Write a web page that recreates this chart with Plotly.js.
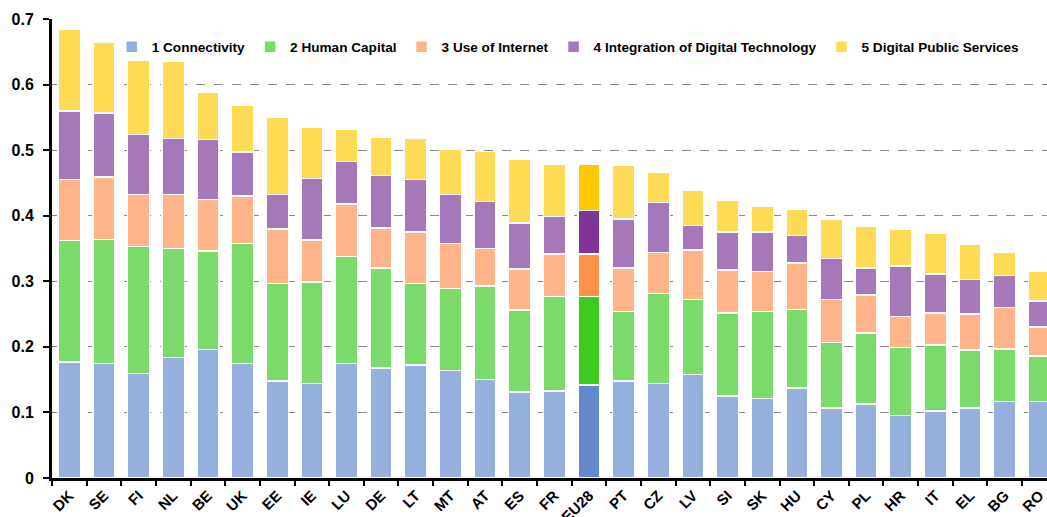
<!DOCTYPE html>
<html>
<head>
<meta charset="utf-8">
<script src="https://cdn.plot.ly/plotly-3.0.1.min.js"></script>
<style>html,body{margin:0;padding:0;background:#fff;}#chart{width:1047px;height:517px;}</style>
</head>
<body>
<div id="chart"></div>
<script>
const countries = ["DK","SE","FI","NL","BE","UK","EE","IE","LU","DE","LT","MT","AT","ES","FR","EU28","PT","CZ","LV","SI","SK","HU","CY","PL","HR","IT","EL","BG","RO"];
const connectivity = [0.177,0.175,0.159,0.184,0.196,0.175,0.148,0.144,0.175,0.168,0.172,0.164,0.150,0.131,0.133,0.142,0.148,0.144,0.158,0.125,0.121,0.137,0.107,0.113,0.095,0.102,0.107,0.117,0.117];
const humanCapital = [0.185,0.189,0.194,0.166,0.150,0.183,0.149,0.155,0.163,0.152,0.125,0.125,0.143,0.125,0.144,0.135,0.106,0.137,0.114,0.127,0.133,0.120,0.100,0.108,0.104,0.101,0.088,0.080,0.069];
const useOfInternet = [0.093,0.095,0.079,0.082,0.079,0.072,0.083,0.064,0.080,0.061,0.078,0.069,0.057,0.063,0.065,0.065,0.066,0.063,0.076,0.065,0.061,0.071,0.065,0.058,0.047,0.049,0.055,0.063,0.044];
const integration = [0.105,0.098,0.092,0.086,0.091,0.067,0.052,0.094,0.065,0.080,0.080,0.074,0.072,0.070,0.057,0.066,0.075,0.076,0.037,0.058,0.060,0.042,0.063,0.041,0.077,0.059,0.053,0.049,0.040];
const publicServices = [0.125,0.108,0.113,0.118,0.072,0.072,0.118,0.078,0.049,0.059,0.063,0.070,0.076,0.097,0.080,0.071,0.082,0.047,0.054,0.049,0.039,0.040,0.060,0.064,0.056,0.062,0.054,0.035,0.045];
const seriesNames = ["1 Connectivity","2 Human Capital","3 Use of Internet","4 Integration of Digital Technology","5 Digital Public Services"];
const yTicks = [0,0.1,0.2,0.3,0.4,0.5,0.6,0.7];
const yTickLabels = ["0","0.1","0.2","0.3","0.4","0.5","0.6","0.7"];

const baseColors = ["#95b0dc","#7bdb6a","#ffb589","#a677b9","#ffda55"];
const euColors = ["#6389cc","#3bcc1f","#ff9148","#803596","#ffc800"];
const allSeries = [connectivity, humanCapital, useOfInternet, integration, publicServices];

const traces = allSeries.map((vals, i) => ({
  type: "bar",
  name: seriesNames[i],
  x: countries,
  y: vals,
  marker: {
    color: countries.map(c => c === "EU28" ? euColors[i] : baseColors[i]),
    line: {color: "#ffffff", width: 1.5}
  },
  hoverinfo: "x+y+name"
}));

const layout = {
  width: 1047,
  height: 517,
  margin: {l: 52, r: 0, t: 19, b: 39},
  barmode: "stack",
  bargap: 0.36,
  paper_bgcolor: "#ffffff",
  plot_bgcolor: "#ffffff",
  font: {family: "Liberation Sans, Arial, sans-serif", color: "#000"},
  showlegend: true,
  legend: {
    orientation: "h",
    x: 0.06, xanchor: "left",
    y: 0.939, yanchor: "middle",
    bgcolor: "rgba(0,0,0,0)",
    font: {size: 13.6, color: "#000", family: "Liberation Sans, Arial, sans-serif", weight: "bold"},
    traceorder: "normal",
    itemclick: false
  },
  xaxis: {
    type: "category",
    range: [-0.5, 28.22],
    tickson: "boundaries",
    ticks: "outside",
    ticklen: 5,
    tickwidth: 2,
    tickcolor: "#000",
    showline: true,
    linecolor: "#000",
    linewidth: 3,
    showgrid: false,
    tickangle: -45,
    tickfont: {size: 15, color: "#000", family: "Liberation Sans, Arial, sans-serif", weight: "bold"}
  },
  yaxis: {
    range: [0, 0.7],
    tickvals: yTicks,
    ticktext: yTickLabels,
    ticks: "outside",
    ticklen: 6,
    tickwidth: 2,
    tickcolor: "#000",
    ticklabelstandoff: 6,
    showline: true,
    linecolor: "#000",
    linewidth: 3,
    showgrid: true,
    gridcolor: "#8a8a8a",
    gridwidth: 1,
    griddash: "dash",
    zeroline: false,
    tickfont: {size: 16, color: "#000", family: "Liberation Sans, Arial, sans-serif", weight: "bold"}
  }
};

Plotly.newPlot("chart", traces, layout, {displayModeBar: false, staticPlot: true});
</script>
</body>
</html>
